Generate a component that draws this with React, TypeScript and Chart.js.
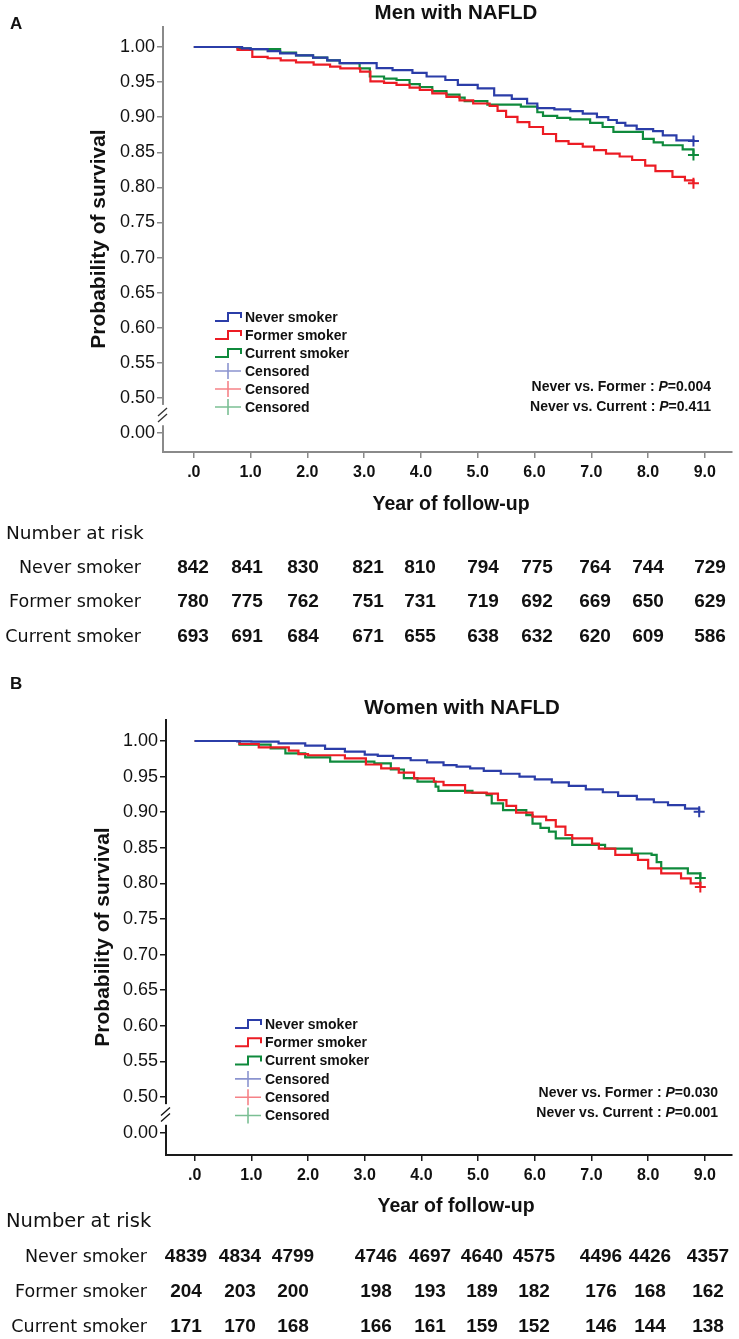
import React, { useEffect, useRef } from 'react';
import { Chart, registerables } from 'chart.js';

Chart.register(...registerables);

// ---------------- data ----------------
const X_TICKS = [0, 1, 2, 3, 4, 5, 6, 7, 8, 9];
const Y_TICKS = [0.5, 0.55, 0.6, 0.65, 0.7, 0.75, 0.8, 0.85, 0.9, 0.95, 1.0];
const Y_BREAK_POS = 0.45; // place on the broken axis where 0.00 is shown
const Y_BREAK_LABEL = '0.00';

const GROUPS = ['Never smoker', 'Former smoker', 'Current smoker'];
const CENSOR_LABEL = 'Censored';
const COLORS = ['#2b3da8', '#ec1c24', '#0f8a3c'];

// Panel A: Men with NAFLD
const A_NEVER_T = [0, 0.85, 1.0, 1.3, 1.52, 1.8, 2.1, 2.35, 2.57, 3.22, 3.5, 3.85, 4.1, 4.43, 4.65, 5.0, 5.29, 5.6, 5.87, 6.05, 6.35, 6.63, 6.85, 7.1, 7.3, 7.45, 7.6, 7.8, 8.09, 8.26, 8.5, 8.8];
const A_NEVER_S = [1.0, 0.998, 0.997, 0.994, 0.991, 0.988, 0.985, 0.981, 0.977, 0.97, 0.967, 0.963, 0.958, 0.953, 0.946, 0.941, 0.931, 0.926, 0.9195, 0.913, 0.911, 0.9086, 0.905, 0.9, 0.896, 0.892, 0.888, 0.883, 0.88, 0.874, 0.867, 0.866];
const A_FORMER_T = [0, 0.77, 1.03, 1.3, 1.53, 1.8, 2.11, 2.4, 2.58, 2.93, 3.11, 3.35, 3.57, 3.8, 3.98, 4.2, 4.45, 4.68, 4.92, 5.21, 5.35, 5.5, 5.7, 5.91, 6.15, 6.38, 6.6, 6.85, 7.05, 7.26, 7.5, 7.72, 7.95, 8.13, 8.43, 8.65, 8.8];
const A_FORMER_S = [1.0, 0.996, 0.986, 0.984, 0.981, 0.978, 0.975, 0.972, 0.9695, 0.965, 0.951, 0.949, 0.946, 0.942, 0.939, 0.934, 0.929, 0.924, 0.9195, 0.916, 0.909, 0.9005, 0.893, 0.886, 0.876, 0.866, 0.862, 0.858, 0.853, 0.848, 0.844, 0.839, 0.831, 0.823, 0.815, 0.81, 0.806];
const A_CURRENT_T = [0, 0.77, 1.0, 1.52, 1.8, 2.1, 2.35, 2.57, 2.92, 3.1, 3.35, 3.57, 3.8, 3.98, 4.2, 4.45, 4.68, 4.77, 5.17, 5.76, 6.05, 6.15, 6.4, 6.63, 6.98, 7.2, 7.39, 7.91, 8.1, 8.26, 8.61, 8.8];
const A_CURRENT_S = [1.0, 0.998, 0.997, 0.992, 0.988, 0.985, 0.981, 0.977, 0.9695, 0.958, 0.955, 0.953, 0.947, 0.943, 0.937, 0.932, 0.928, 0.923, 0.918, 0.915, 0.907, 0.902, 0.899, 0.897, 0.892, 0.886, 0.879, 0.869, 0.864, 0.86, 0.854, 0.846];

const A_RISK_NEVER = [842, 841, 830, 821, 810, 794, 775, 764, 744, 729];
const A_RISK_FORMER = [780, 775, 762, 751, 731, 719, 692, 669, 650, 629];
const A_RISK_CURRENT = [693, 691, 684, 671, 655, 638, 632, 620, 609, 586];
const A_PVALUES = ['0.004', '0.411'];

// Panel B: Women with NAFLD
const B_NEVER_T = [0, 0.75, 1.0, 1.48, 1.95, 2.3, 2.65, 3.0, 3.23, 3.5, 3.81, 4.1, 4.39, 4.62, 4.86, 5.1, 5.4, 5.73, 6.0, 6.3, 6.6, 6.9, 7.2, 7.47, 7.8, 8.1, 8.35, 8.65, 8.9];
const B_NEVER_S = [1.0, 0.9995, 0.999, 0.9967, 0.9934, 0.989, 0.985, 0.981, 0.979, 0.976, 0.973, 0.97, 0.966, 0.964, 0.9616, 0.958, 0.954, 0.95, 0.946, 0.942, 0.937, 0.932, 0.928, 0.923, 0.918, 0.914, 0.91, 0.905, 0.9007];
const B_FORMER_T = [0, 0.79, 1.13, 1.66, 1.83, 2.0, 2.65, 3.02, 3.29, 3.6, 3.87, 4.22, 4.39, 4.77, 5.15, 5.35, 5.5, 5.67, 5.96, 6.2, 6.37, 6.54, 6.66, 7.01, 7.13, 7.42, 7.82, 8.0, 8.23, 8.58, 8.75, 8.92];
const B_FORMER_S = [1.0, 0.9958, 0.991, 0.9864, 0.9817, 0.98, 0.9757, 0.967, 0.9616, 0.9555, 0.9476, 0.9428, 0.938, 0.9274, 0.926, 0.917, 0.909, 0.8993, 0.8937, 0.889, 0.8797, 0.868, 0.8633, 0.856, 0.849, 0.84, 0.833, 0.8212, 0.8142, 0.807, 0.8, 0.795];
const B_CURRENT_T = [0, 0.79, 1.34, 1.6, 1.95, 2.39, 3.17, 3.46, 3.69, 3.93, 4.25, 4.3, 4.9, 5.15, 5.24, 5.44, 5.85, 5.96, 6.1, 6.25, 6.37, 6.66, 7.24, 7.71, 8.06, 8.15, 8.23, 8.7, 8.92];
const B_CURRENT_S = [1.0, 0.995, 0.9897, 0.9827, 0.977, 0.971, 0.9687, 0.96, 0.948, 0.943, 0.936, 0.93, 0.927, 0.924, 0.9125, 0.903, 0.896, 0.884, 0.878, 0.8726, 0.8633, 0.854, 0.849, 0.842, 0.84, 0.83, 0.821, 0.814, 0.8076];

const B_RISK_NEVER = [4839, 4834, 4799, 4746, 4697, 4640, 4575, 4496, 4426, 4357];
const B_RISK_FORMER = [204, 203, 200, 198, 193, 189, 182, 176, 168, 162];
const B_RISK_CURRENT = [171, 170, 168, 166, 161, 159, 152, 146, 144, 138];
const B_PVALUES = ['0.030', '0.001'];

// ---------------- layout / style ----------------
const SANS = '"Liberation Sans", Arial, sans-serif';
const TABLE_SANS = '"DejaVu Sans", "Liberation Sans", sans-serif';
const INK = '#111111';

const LAYOUT_A = {
  letter: 'A', title: 'Men with NAFLD',
  height: 670, padTop: 27, padRight: 4, yAxisW: 163, xAxisH: 218,
  xMin: -0.543, xMax: 9.47, yMin: 0.4229, yMax: 1.0285,
  axisColor: '#8a8a8a',
  letterX: 10, letterY: 24, titleX: 456, titleY: 13,
  yTitleX: 99, yTitleY: 239, xTitleX: 451, xTitleY: 505,
  legendX: 215, legendY: 317, legendDy: 18,
  pRight: 711, pY: [387, 407],
  nrY: 534, nrSize: 18.5, rowY: [568, 602, 637], rowLabelRight: 141,
  cols: [193, 247, 303, 368, 420, 483, 537, 595, 648, 710],
};

const LAYOUT_B = {
  letter: 'B', title: 'Women with NAFLD',
  height: 669, padTop: 50, padRight: 1, yAxisW: 166, xAxisH: 184,
  xMin: -0.506, xMax: 9.47, yMin: 0.4186, yMax: 1.0295,
  axisColor: '#1a1a1a',
  letterX: 10, letterY: 14, titleX: 462, titleY: 38,
  yTitleX: 103, yTitleY: 267, xTitleX: 456, xTitleY: 537,
  legendX: 235, legendY: 354, legendDy: 18.3,
  pRight: 718, pY: [423, 443],
  nrY: 552, nrSize: 19.5, rowY: [587, 622, 657], rowLabelRight: 147,
  cols: [186, 240, 293, 376, 430, 482, 534, 601, 650, 708],
};

type Series = { label: string; t: number[]; s: number[]; color: string };

const PANEL_A = {
  layout: LAYOUT_A,
  series: [
    { label: GROUPS[0], t: A_NEVER_T, s: A_NEVER_S, color: COLORS[0] },
    { label: GROUPS[1], t: A_FORMER_T, s: A_FORMER_S, color: COLORS[1] },
    { label: GROUPS[2], t: A_CURRENT_T, s: A_CURRENT_S, color: COLORS[2] },
  ] as Series[],
  risk: [A_RISK_NEVER, A_RISK_FORMER, A_RISK_CURRENT],
  pvalues: A_PVALUES,
};

const PANEL_B = {
  layout: LAYOUT_B,
  series: [
    { label: GROUPS[0], t: B_NEVER_T, s: B_NEVER_S, color: COLORS[0] },
    { label: GROUPS[1], t: B_FORMER_T, s: B_FORMER_S, color: COLORS[1] },
    { label: GROUPS[2], t: B_CURRENT_T, s: B_CURRENT_S, color: COLORS[2] },
  ] as Series[],
  risk: [B_RISK_NEVER, B_RISK_FORMER, B_RISK_CURRENT],
  pvalues: B_PVALUES,
};

function hexAlpha(hex: string, a: number) {
  const r = parseInt(hex.slice(1, 3), 16);
  const g = parseInt(hex.slice(3, 5), 16);
  const b = parseInt(hex.slice(5, 7), 16);
  return `rgba(${r},${g},${b},${a})`;
}

function buildDatasets(series: Series[]) {
  const curves = series.map((s) => ({
    label: s.label,
    kmRole: 'curve',
    data: s.t.map((t, i) => ({ x: t, y: s.s[i] })),
    borderColor: s.color,
    backgroundColor: s.color,
    borderWidth: 2.2,
    stepped: 'before' as const,
    pointRadius: 0,
    fill: false,
    tension: 0,
  }));
  const censors = series.map((s) => ({
    label: CENSOR_LABEL,
    kmRole: 'censor',
    kmColor: s.color,
    data: [{ x: s.t[s.t.length - 1], y: s.s[s.s.length - 1] }],
    showLine: false,
    pointStyle: 'cross' as const,
    pointRadius: 5.5,
    borderColor: s.color,
    backgroundColor: s.color,
    borderWidth: 2,
  }));
  return [...curves, ...censors];
}

function makeDecorPlugin(panel: typeof PANEL_A) {
  const L = panel.layout;
  return {
    id: 'kmDecor',
    afterDraw(chart: any) {
      const ctx: CanvasRenderingContext2D = chart.ctx;
      const ys = chart.scales.y;
      const axisX = chart.chartArea.left;
      ctx.save();

      // axis break
      const gTop = ys.getPixelForValue(0.49);
      const gBot = ys.getPixelForValue(0.461);
      ctx.fillStyle = '#ffffff';
      ctx.fillRect(axisX - 2.5, gTop, 5, gBot - gTop);
      const yc = (gTop + gBot) / 2;
      ctx.strokeStyle = L.axisColor === '#8a8a8a' ? '#333' : '#111';
      ctx.lineWidth = 1.4;
      [-3, 3].forEach((d) => {
        ctx.beginPath();
        ctx.moveTo(axisX - 5, yc + d + 4);
        ctx.lineTo(axisX + 4, yc + d - 4);
        ctx.stroke();
      });

      ctx.fillStyle = INK;
      ctx.textBaseline = 'middle';

      // panel letter
      ctx.font = `bold 17px ${SANS}`;
      ctx.textAlign = 'left';
      ctx.fillText(L.letter, L.letterX, L.letterY);

      // title
      ctx.font = `bold 20.5px ${SANS}`;
      ctx.textAlign = 'center';
      ctx.fillText(L.title, L.titleX, L.titleY);

      // y title
      ctx.save();
      ctx.translate(L.yTitleX, L.yTitleY);
      ctx.rotate(-Math.PI / 2);
      ctx.font = `bold 21px ${SANS}`;
      ctx.fillText('Probability of survival', 0, 0);
      ctx.restore();

      // x title
      ctx.font = `bold 19.5px ${SANS}`;
      ctx.textAlign = 'center';
      ctx.fillText('Year of follow-up', L.xTitleX, L.xTitleY);

      // legend (from datasets)
      const dss = chart.data.datasets;
      dss.forEach((ds: any, i: number) => {
        const y = L.legendY + i * L.legendDy;
        const x0 = L.legendX;
        if (ds.kmRole === 'curve') {
          ctx.strokeStyle = ds.borderColor;
          ctx.lineWidth = 2;
          ctx.beginPath();
          ctx.moveTo(x0, y + 4);
          ctx.lineTo(x0 + 13, y + 4);
          ctx.lineTo(x0 + 13, y - 4);
          ctx.lineTo(x0 + 26, y - 4);
          ctx.lineTo(x0 + 26, y + 1);
          ctx.stroke();
        } else {
          ctx.strokeStyle = hexAlpha(ds.kmColor, 0.55);
          ctx.lineWidth = 1.6;
          ctx.beginPath();
          ctx.moveTo(x0, y);
          ctx.lineTo(x0 + 26, y);
          ctx.moveTo(x0 + 13, y - 8);
          ctx.lineTo(x0 + 13, y + 8);
          ctx.stroke();
        }
        ctx.fillStyle = INK;
        ctx.font = `bold 14px ${SANS}`;
        ctx.textAlign = 'left';
        ctx.fillText(ds.label, x0 + 30, y + 1);
      });

      // p values
      const comps = ['Never vs. Former : ', 'Never vs. Current : '];
      comps.forEach((c, i) => {
        const fN = `bold 14px ${SANS}`;
        const fI = `italic bold 14px ${SANS}`;
        const tail = '=' + panel.pvalues[i];
        ctx.font = fN;
        const w1 = ctx.measureText(c).width;
        const w3 = ctx.measureText(tail).width;
        ctx.font = fI;
        const w2 = ctx.measureText('P').width;
        let x = L.pRight - (w1 + w2 + w3);
        const y = L.pY[i];
        ctx.textAlign = 'left';
        ctx.font = fN;
        ctx.fillText(c, x, y);
        x += w1;
        ctx.font = fI;
        ctx.fillText('P', x, y);
        x += w2;
        ctx.font = fN;
        ctx.fillText(tail, x, y);
      });

      // number at risk table
      ctx.textAlign = 'left';
      ctx.font = `${L.nrSize}px ${TABLE_SANS}`;
      ctx.fillText('Number at risk', 6, L.nrY);
      GROUPS.forEach((g, r) => {
        const y = L.rowY[r];
        ctx.textAlign = 'right';
        ctx.font = `17.5px ${TABLE_SANS}`;
        ctx.fillText(g, L.rowLabelRight, y);
        ctx.textAlign = 'center';
        ctx.font = `bold 19px ${SANS}`;
        panel.risk[r].forEach((v, j) => {
          ctx.fillText(String(v), L.cols[j], y);
        });
      });

      ctx.restore();
    },
  };
}

function KMPanel({ panel }: { panel: typeof PANEL_A }) {
  const ref = useRef<HTMLCanvasElement | null>(null);
  const L = panel.layout;
  useEffect(() => {
    if (!ref.current) return;
    const tickFontY = { family: SANS, size: 18, weight: 'normal' as const };
    const tickFontX = { family: SANS, size: 16, weight: 'bold' as const };
    const chart = new Chart(ref.current, {
      type: 'line',
      data: { datasets: buildDatasets(panel.series) as any },
      options: {
        animation: false,
        responsive: false,
        devicePixelRatio: window.devicePixelRatio || 1,
        layout: { padding: { top: L.padTop, right: L.padRight, left: 0, bottom: 0 } },
        plugins: { legend: { display: false }, title: { display: false }, tooltip: { enabled: false } },
        events: [],
        scales: {
          x: {
            type: 'linear',
            min: L.xMin,
            max: L.xMax,
            afterBuildTicks: (s: any) => {
              s.ticks = X_TICKS.map((v) => ({ value: v }));
            },
            afterFit: (s: any) => {
              s.height = L.xAxisH;
            },
            grid: { drawOnChartArea: false, drawTicks: true, tickLength: 6, color: L.axisColor, lineWidth: 1.5 },
            border: { display: true, color: L.axisColor, width: 2 },
            ticks: {
              autoSkip: false,
              maxRotation: 0,
              padding: 5,
              color: INK,
              font: tickFontX,
              callback: (v: any) => (Number(v) === 0 ? '.0' : Number(v).toFixed(1)),
            },
          },
          y: {
            type: 'linear',
            min: L.yMin,
            max: L.yMax,
            afterBuildTicks: (s: any) => {
              s.ticks = [Y_BREAK_POS, ...Y_TICKS].map((v) => ({ value: v }));
            },
            afterFit: (s: any) => {
              s.width = L.yAxisW;
            },
            grid: { drawOnChartArea: false, drawTicks: true, tickLength: 6, color: L.axisColor, lineWidth: 1.5 },
            border: { display: true, color: L.axisColor, width: 2 },
            ticks: {
              autoSkip: false,
              padding: 2,
              color: INK,
              font: tickFontY,
              callback: (v: any) =>
                Math.abs(Number(v) - Y_BREAK_POS) < 1e-6 ? Y_BREAK_LABEL : Number(v).toFixed(2),
            },
          },
        },
      },
      plugins: [makeDecorPlugin(panel)],
    });
    return () => chart.destroy();
  }, [panel]);
  return (
    <canvas
      ref={ref}
      width={739}
      height={L.height}
      style={{ display: 'block', width: 739, height: L.height }}
    />
  );
}

export default function App() {
  useEffect(() => {
    document.body.style.margin = '0';
    document.body.style.background = '#ffffff';
  }, []);
  return (
    <div style={{ width: 739, background: '#fff' }}>
      <KMPanel panel={PANEL_A} />
      <KMPanel panel={PANEL_B} />
    </div>
  );
}
